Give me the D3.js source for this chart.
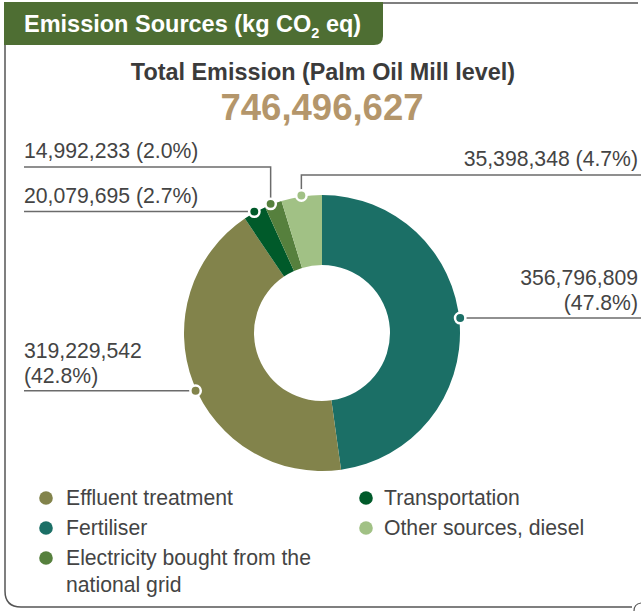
<!DOCTYPE html>
<html>
<head>
<meta charset="utf-8">
<script src="https://cdn.jsdelivr.net/npm/d3@7"></script>
<style>
  html, body { margin: 0; padding: 0; background: #fff; }
  svg { display: block; font-family: "Liberation Sans", Arial, Helvetica, sans-serif; }
</style>
</head>
<body>
<svg id="chart" width="641" height="611"></svg>
<script>
// Emission sources, clockwise from 12 o'clock
const categories = ["Fertiliser", "Effluent treatment", "Transportation",
  "Electricity bought from the national grid", "Other sources, diesel"];
const values = [356796809, 319229542, 20079695, 14992233, 35398348];
const shares = [47.8, 42.8, 2.7, 2.0, 4.7];
const colors = ["#1b6f66", "#82834b", "#005a2a", "#56803d", "#a1c185"];
const totalEmission = 746496627;

// legend order: two columns
const legendCol1 = ["Effluent treatment", "Fertiliser", "Electricity bought from the national grid"];
const legendCol2 = ["Transportation", "Other sources, diesel"];

const svg = d3.select("#chart");
const fmt = d3.format(",");
const textColor = "#444";
const lineColor = "#6b6b6b";

// ---- frame ----
svg.append("path")
  .attr("d", "M5,3 L638,3 M5,3 L5,591 Q5,607 21,607 L632,607")
  .attr("fill", "none").attr("stroke", "#555").attr("stroke-width", 1.5);
svg.append("path")
  .attr("d", "M634,611 Q634,604 641,603")
  .attr("fill", "none").attr("stroke", "#555").attr("stroke-width", 1.2);

// header tab
svg.append("path")
  .attr("d", "M4,2 L383,2 L383,36 Q383,45 374,45 L4,45 Z")
  .attr("fill", "#4e6e33");
const head = svg.append("text")
  .attr("x", 24).attr("y", 32)
  .attr("fill", "#fff").attr("font-weight", "bold").attr("font-size", 23.5);
head.append("tspan").text("Emission Sources (kg CO");
head.append("tspan").text("2").attr("font-size", 14.5).attr("dy", 6);
head.append("tspan").text(" eq)").attr("dy", -6);

// titles
svg.append("text")
  .attr("x", 323).attr("y", 80).attr("text-anchor", "middle")
  .attr("fill", "#3b3b3b").attr("font-weight", "bold").attr("font-size", 23.4)
  .text("Total Emission (Palm Oil Mill level)");
svg.append("text")
  .attr("x", 322).attr("y", 120).attr("text-anchor", "middle")
  .attr("fill", "#b4966b").attr("font-weight", "bold").attr("font-size", 36.5)
  .text(fmt(totalEmission));

// ---- donut ----
const cx = 322, cy = 333, rOuter = 138, rInner = 68;
const data = categories.map((c, i) => ({ name: c, value: values[i], share: shares[i], color: colors[i] }));
const pie = d3.pie().value(d => d.value).sort(null);
const arcs = pie(data);
const arc = d3.arc().innerRadius(rInner).outerRadius(rOuter);

const g = svg.append("g").attr("transform", `translate(${cx},${cy})`);
g.selectAll("path.slice").data(arcs).join("path")
  .attr("class", "slice")
  .attr("d", arc)
  .attr("fill", d => d.data.color);

// label placement per slice (shift = small angular nudge of the rim anchor, degrees)
const leftX = 24, rightX = 638, edgeX = 641;
const labelLayout = {
  "Fertiliser": { side: "right", lines: 2, shift: -2.2 },
  "Effluent treatment": { side: "left", lines: 2, shift: -3.6 },
  "Transportation": { side: "left", lines: 1, shift: 0 },
  "Electricity bought from the national grid": { side: "left", lines: 1, elbowY: 167, shift: -1 },
  "Other sources, diesel": { side: "right", lines: 1, elbowY: 175, shift: 0 }
};

// anchor point on the outer rim near each slice's mid-angle
const rDot = rOuter + 1;
const anchor = a => {
  const m = (a.startAngle + a.endAngle) / 2 + labelLayout[a.data.name].shift * Math.PI / 180;
  return [cx + rDot * Math.sin(m), cy - rDot * Math.cos(m)];
};

const labelFont = 21.2;
const leaders = svg.append("g");
const labels = svg.append("g");
arcs.forEach(a => {
  const [px, py] = anchor(a);
  const L = labelLayout[a.data.name];
  const lineY = L.elbowY !== undefined ? L.elbowY : py;
  let pts;
  if (L.side === "left") {
    pts = L.elbowY !== undefined ? [[leftX, lineY], [px, lineY], [px, py]] : [[leftX, py], [px, py]];
  } else {
    pts = L.elbowY !== undefined ? [[px, py], [px, lineY], [edgeX, lineY]] : [[px, py], [edgeX, py]];
  }
  leaders.append("path")
    .attr("d", d3.line()(pts))
    .attr("fill", "none").attr("stroke", lineColor).attr("stroke-width", 1.5);

  const tx = L.side === "left" ? leftX : rightX;
  const anchorAttr = L.side === "left" ? "start" : "end";
  const valueText = fmt(a.data.value);
  const pctText = `(${a.data.share.toFixed(1)}%)`;
  const t = labels.append("text")
    .attr("text-anchor", anchorAttr).attr("fill", textColor).attr("font-size", labelFont);
  if (L.lines === 2) {
    t.append("tspan").attr("x", tx).attr("y", lineY - 33).text(valueText);
    t.append("tspan").attr("x", tx).attr("y", lineY - 8).text(pctText);
  } else {
    t.append("tspan").attr("x", tx).attr("y", lineY - 9).text(`${valueText} ${pctText}`);
  }
});

// rim dots
svg.append("g").selectAll("circle").data(arcs).join("circle")
  .attr("cx", d => anchor(d)[0]).attr("cy", d => anchor(d)[1])
  .attr("r", 5.2)
  .attr("fill", d => d.data.color)
  .attr("stroke", "#fff").attr("stroke-width", 2.5);

// ---- legend ----
const colorOf = name => data.find(d => d.name === name).color;
const legendText = {
  "Electricity bought from the national grid": ["Electricity bought from the", "national grid"]
};
function legendColumn(names, dotX, textX) {
  let y = 498;
  names.forEach(n => {
    svg.append("circle").attr("cx", dotX).attr("cy", y).attr("r", 6.8).attr("fill", colorOf(n));
    const lines = legendText[n] || [n];
    const t = svg.append("text").attr("fill", textColor).attr("font-size", labelFont);
    lines.forEach((ln, i) => {
      t.append("tspan").attr("x", textX).attr("y", y + 7 + i * 27).text(ln);
    });
    y += 30 + (lines.length - 1) * 27;
  });
}
legendColumn(legendCol1, 46, 66);
legendColumn(legendCol2, 366, 384);
</script>
</body>
</html>
